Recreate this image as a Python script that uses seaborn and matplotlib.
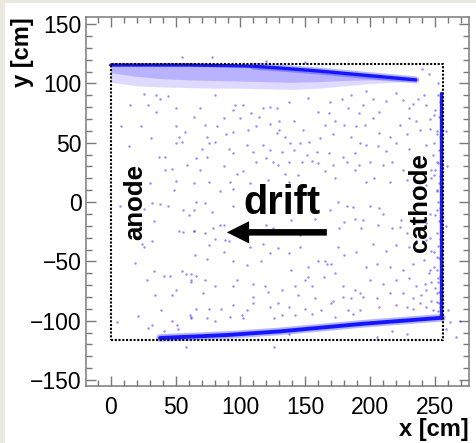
import matplotlib
matplotlib.use("Agg")
import matplotlib.pyplot as plt
import seaborn as sns
from matplotlib.patches import Rectangle
from matplotlib.ticker import MultipleLocator

# ---------------- data (cm) ----------------
top_track_x = [0, 30, 60, 90, 110, 130, 160, 190, 210, 235]
top_track_y = [115.5, 115.5, 115.5, 115, 114.5, 113, 110.5, 107.5, 105.5, 103]
halo_x = [0, 20, 40, 60, 80, 100, 120, 140, 160, 180, 200, 220, 235]
halo_top = [116, 116, 116, 116, 115.8, 115, 113.8, 112, 110.5, 108.5, 106.5, 104.5, 103]
halo_bottom = [101, 98, 97, 96.5, 96, 96, 95.5, 95, 96, 98, 100, 101, 102.5]
halo_core_bottom = [109, 106, 104, 103, 102.5, 102, 101.5, 101, 101.5, 102.5, 103, 103, 102.8]
bottom_track_x = [38, 60, 90, 130, 160, 195, 225, 255]
bottom_track_y = [-114.5, -113.5, -112, -109, -106, -102.5, -100, -97.5]
cathode_x = [254.5, 254.5]
cathode_y = [-97.5, 92]
box_x = [0, 256, 256, 0, 0]
box_y = [-116, -116, 116, 116, -116]

bg_pts = [
    (26, 91), (35, 90), (38, 87), (15, 82), (29, 82), (44, 89), (50, 79), (8, 64), (23, 64), (50, 64),
    (35, 76), (14, 47), (31, 54), (53, 55), (57, 59), (37, 38), (42, 38), (50, 50), (47, 28), (59, 31),
    (42, 27), (50, 18), (49, 10), (30, 16), (55, 51),
    (80, 90), (64, 72), (73, 65), (69, 79), (96, 82), (94, 78), (102, 82), (100, 71), (108, 75), (114, 72),
    (117, 79), (123, 80), (87, 71), (74, 55), (89, 57), (82, 64), (94, 59), (106, 61), (112, 64), (123, 66),
    (128, 58), (76, 50), (80, 51), (70, 45), (91, 45), (105, 48), (117, 48), (123, 44), (66, 37), (74, 38),
    (94, 41), (110, 42), (120, 37), (69, 27), (87, 30), (97, 24), (102, 26), (112, 34), (125, 34), (64, 16),
    (76, 17), (92, 17), (107, 16), (121, 19), (84, 9), (94, 11),
    (128, 79), (130, 68), (137, 84), (152, 88), (169, 84), (178, 87), (185, 90), (160, 76), (168, 75), (183, 79),
    (191, 75), (130, 61), (141, 68), (148, 61), (165, 65), (173, 68), (180, 65), (189, 64), (134, 55), (138, 50),
    (146, 50), (153, 51), (161, 54), (171, 57), (185, 55), (192, 50), (132, 42), (141, 44), (151, 40), (159, 42),
    (168, 41), (179, 38), (188, 41), (129, 31), (137, 34), (147, 34), (155, 35), (160, 33), (171, 31), (182, 34),
    (191, 31), (134, 24), (144, 23), (165, 26), (188, 27), (137, 17), (173, 20),
    (197, 94), (202, 87), (194, 82), (207, 76), (212, 85), (220, 92), (225, 86), (230, 79), (233, 83), (237, 87),
    (241, 90), (243, 82), (230, 71), (235, 68), (223, 65), (202, 71), (196, 65), (207, 58), (215, 55), (228, 57),
    (238, 61), (246, 62), (249, 73), (251, 57), (197, 48), (206, 47), (212, 43), (220, 50), (230, 45), (243, 48),
    (248, 40), (200, 34), (210, 31), (217, 34), (225, 27), (241, 31), (247, 27), (251, 34), (203, 20), (215, 17),
    (228, 19), (243, 14), (249, 23), (251, 9), (197, 17), (233, 9),
    (7, -3), (26, -6), (32, -1), (38, -2), (44, -3), (56, -7), (60, -11), (33, -16), (53, -24), (56, -25),
    (64, -24), (24, -35), (32, -33), (26, -38), (19, -51), (33, -58), (28, -66), (41, -62), (46, -62), (55, -58),
    (58, -61), (62, -61), (50, -74), (47, -78), (34, -78), (62, -67), (39, -91), (21, -96), (5, -101), (47, -100),
    (61, -95), (62, -98), (32, -104), (29, -106), (51, -104), (52, -107), (41, -109), (58, -122),
    (66, 0), (73, -1), (64, -7), (78, -8), (94, -3), (125, -1), (64, -24), (73, -26), (79, -22), (84, -19),
    (87, -19), (80, -31), (88, -32), (76, -36), (91, -33), (87, -42), (107, -38), (120, -19), (125, -22), (117, -35),
    (65, -45), (74, -48), (94, -50), (105, -53), (116, -50), (123, -43), (66, -62), (73, -66), (62, -66), (80, -71),
    (94, -71), (97, -66), (110, -69), (119, -71), (71, -77), (110, -80), (121, -76), (66, -90), (76, -90), (85, -90),
    (94, -87), (101, -95), (105, -91), (110, -85), (123, -88), (62, -97), (74, -98), (80, -100), (92, -97), (102, -98),
    (126, -98), (126, -122),
    (175, 0), (182, -3), (187, -4), (169, -7), (180, -17), (188, -14), (176, -22), (193, -22), (139, -15), (157, -14),
    (146, -28), (129, -39), (137, -43), (146, -38), (175, -38), (180, -45), (189, -42), (160, -50), (152, -55), (165, -50),
    (167, -52), (170, -52), (139, -57), (152, -63), (150, -66), (164, -63), (173, -60), (132, -74), (142, -71), (155, -71),
    (179, -71), (188, -74), (144, -78), (157, -81), (171, -83), (179, -80), (185, -81), (192, -77), (129, -85), (137, -88),
    (150, -90), (162, -91), (170, -85), (183, -91), (187, -94), (192, -91), (132, -95), (142, -95), (155, -94), (173, -97),
    (137, -111),
    (200, -3), (207, -5), (210, -10), (194, -15), (206, -19), (217, -22), (223, -21), (224, -15), (228, -26), (243, -18),
    (246, -10), (251, -7), (202, -35), (212, -41), (220, -36), (230, -38), (235, -33), (243, -32), (247, -41), (251, -46),
    (197, -55), (205, -52), (215, -55), (225, -57), (233, -52), (241, -49), (246, -57), (249, -55), (200, -66), (210, -69),
    (220, -66), (230, -64), (235, -71), (242, -69), (247, -67), (252, -64), (194, -80), (205, -81), (215, -77), (225, -77),
    (233, -81), (239, -78), (243, -74), (247, -83), (251, -77), (207, -88), (220, -87), (228, -88), (233, -90), (238, -85),
    (243, -88), (248, -91), (253, -85), (260, -91), (269, -100), (258, -107), (261, -101), (266, -114), (228, -111), (217, -109),
    (205, -114),
    (252, 90), (254, 84), (250, 78), (253, 72), (255, 66), (251, 60), (254, 55), (249, 50), (253, 44), (255, 38),
    (252, 33), (250, 27), (254, 22), (253, 16), (251, 10), (255, 5), (252, 0), (254, -5), (250, -11), (253, -16),
    (255, -21), (251, -26), (254, -31), (252, -37), (249, -42), (253, -47), (255, -52), (251, -57), (254, -62), (252, -67),
    (250, -72), (253, -76), (255, -80), (251, -84), (254, -88), (252, -92), (246, 70), (247, 20), (246, -30), (245, -60),
    (258, 60), (258, -20), (259, 30),
    (55, 122), (78, 122), (120, 119), (150, 118), (245, 108), (252, 100), (240, 112),
]
bg_x = [p[0] for p in bg_pts]
bg_y = [p[1] for p in bg_pts]

x_ticks = [0, 50, 100, 150, 200, 250]
y_ticks = [-150, -100, -50, 0, 50, 100, 150]

# ---------------- style ----------------
sns.set_style("white")
plt.rcParams["font.family"] = ["Liberation Sans", "DejaVu Sans"]
plt.rcParams["text.color"] = "black"
plt.rcParams["axes.labelcolor"] = "black"
plt.rcParams["xtick.color"] = "black"
plt.rcParams["ytick.color"] = "black"

fig = plt.figure(figsize=(4.76, 4.43), dpi=100)
fig.patch.set_facecolor("#ebe8e0")
fig.patches.append(Rectangle((5 / 476, 0), 1, 1 - 3 / 443, transform=fig.transFigure,
                             facecolor="white", edgecolor="none", zorder=-10))
ax = fig.add_axes([86 / 476, 1 - 386 / 443, 383 / 476, 369 / 443])
ax.set_facecolor("white")

# halo below the top track
ax.fill_between(halo_x, halo_bottom, halo_top, color="#8a7cff", alpha=0.28, lw=0, zorder=1)
ax.fill_between(halo_x, halo_core_bottom, halo_top, color="#4a3cff", alpha=0.25, lw=0, zorder=1)

# sparse hits
sns.scatterplot(x=bg_x, y=bg_y, s=3.0, color="#4a3cff", alpha=0.6, linewidth=0, ax=ax, zorder=2)

# tracks
sns.lineplot(x=top_track_x[4:], y=top_track_y[4:], sort=False, estimator=None,
             color="#2a2aff", lw=5.0, alpha=0.35, ax=ax, zorder=3)
sns.lineplot(x=top_track_x, y=top_track_y, sort=False, estimator=None,
             color="#1515ff", lw=2.4, ax=ax, zorder=4)
sns.lineplot(x=bottom_track_x, y=bottom_track_y, sort=False, estimator=None,
             color="#2a2aff", lw=5.5, alpha=0.35, ax=ax, zorder=3)
sns.lineplot(x=bottom_track_x, y=bottom_track_y, sort=False, estimator=None,
             color="#1515ff", lw=2.8, ax=ax, zorder=4)
sns.lineplot(x=cathode_x, y=cathode_y, sort=False, estimator=None,
             color="#1a1aff", lw=2.4, ax=ax, zorder=4)

# fiducial box
sns.lineplot(x=box_x, y=box_y, sort=False, estimator=None, color="black",
             lw=1.5, ax=ax, zorder=6)
ax.lines[-1].set_linestyle((0, (1.0, 0.8)))

# annotations
ax.text(19, 0, "anode", rotation=90, fontsize=18.5, fontweight="bold",
        ha="center", va="center", zorder=7)
ax.text(238, 0, "cathode", rotation=90, fontsize=18.5, fontweight="bold",
        ha="center", va="center", zorder=7)
ax.text(132.3, -10, "drift", fontsize=28.5, fontweight="bold",
        ha="center", va="baseline", zorder=7)
ax.annotate("", xy=(89.5, -25.5), xytext=(166.5, -25.5),
            arrowprops=dict(arrowstyle="simple,head_length=16,head_width=16,tail_width=4.7",
                            mutation_scale=1, color="black", lw=0, shrinkA=0, shrinkB=0),
            zorder=7)

# axes
ax.set_xlim(-19, 276)
ax.set_ylim(-155, 156)
ax.set_xticks(x_ticks)
ax.set_yticks(y_ticks)
ax.set_xticklabels([str(v) for v in x_ticks])
ax.set_yticklabels([str(v).replace("-", "\u2212") for v in y_ticks])
ax.xaxis.set_minor_locator(MultipleLocator(10))
ax.yaxis.set_minor_locator(MultipleLocator(10))
for s in ax.spines.values():
    s.set_color("#7a7a7a")
    s.set_linewidth(1.1)
    s.set_visible(True)
ax.tick_params(which="both", direction="in", top=True, right=True, bottom=True, left=True,
               color="#7a7a7a", width=1.0)
ax.tick_params(which="major", length=7.5, labelsize=16.5, labelcolor="black")
ax.tick_params(axis="x", which="major", pad=7)
ax.tick_params(axis="y", which="major", pad=3)
ax.tick_params(which="minor", length=4, width=1.0)

ax.set_xlabel("x [cm]", fontsize=17, fontweight="bold", loc="right")
ax.set_ylabel("y [cm]", fontsize=17, fontweight="bold", loc="top")
ax.xaxis.set_label_coords(1.0, -0.088)
ax.yaxis.set_label_coords(-0.136, 1.0)

fig.savefig("out.png", dpi=100, facecolor=fig.get_facecolor())
